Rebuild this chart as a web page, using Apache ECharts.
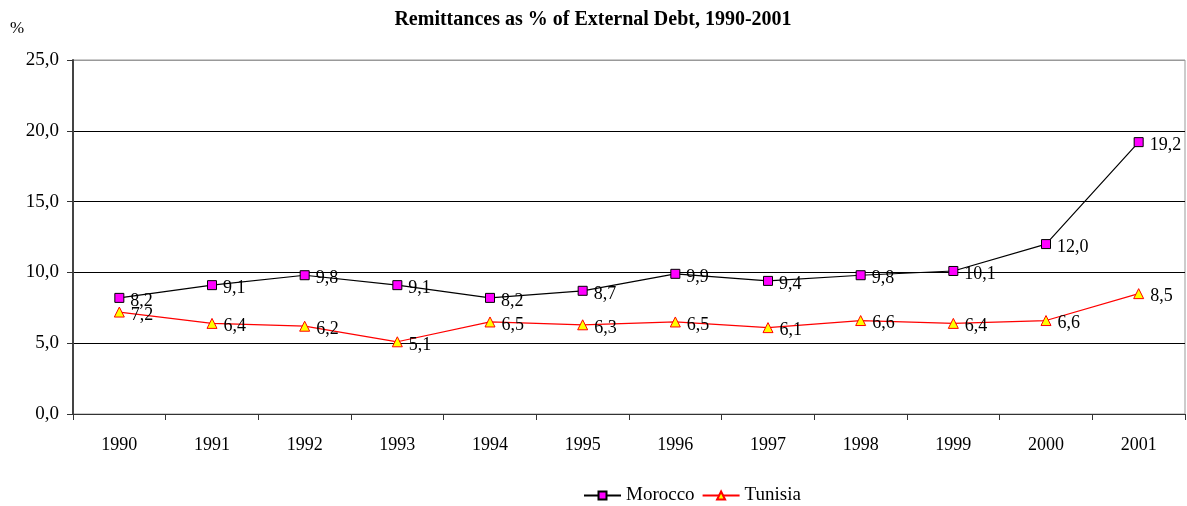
<!DOCTYPE html>
<html>
<head>
<meta charset="utf-8">
<script src="https://cdn.jsdelivr.net/npm/echarts@6/dist/echarts.min.js"></script>
<style>
html, body { margin: 0; padding: 0; background: #fff; }
#main { width: 1187px; height: 506px; }
</style>
</head>
<body>
<div id="main"></div>
<script>
var years = ['1990', '1991', '1992', '1993', '1994', '1995', '1996', '1997', '1998', '1999', '2000', '2001'];
var morocco = [8.2, 9.1, 9.8, 9.1, 8.2, 8.7, 9.9, 9.4, 9.8, 10.1, 12.0, 19.2];
var tunisia = [7.2, 6.4, 6.2, 5.1, 6.5, 6.3, 6.5, 6.1, 6.6, 6.4, 6.6, 8.5];

var fmt = function (v) {
    return Number(v).toFixed(1).replace('.', ',');
};
var serif = '"Liberation Serif", "DejaVu Serif", serif';

var pointLabel = {
    show: true,
    position: 'right',
    distance: 6,
    offset: [0, 3],
    fontFamily: serif,
    fontSize: 18,
    color: '#000',
    formatter: function (p) { return fmt(p.value); }
};

var myChart = echarts.init(document.getElementById('main'));
var option = {
    animation: false,
    textStyle: { fontFamily: serif },
    title: {
        text: 'Remittances as % of External Debt, 1990-2001',
        left: 588,
        textAlign: 'center',
        top: 5,
        textStyle: { fontFamily: serif, fontSize: 20, fontWeight: 'bold', color: '#000' }
    },
    graphic: [{
        type: 'text',
        left: 10,
        top: 20,
        style: { text: '%', font: '17px ' + serif, fill: '#000' }
    }],
    legend: {
        top: 481,
        left: 578,
        itemWidth: 37,
        itemHeight: 10,
        itemGap: 7,
        textStyle: { fontFamily: serif, fontSize: 19, color: '#000' },
        data: ['Morocco', 'Tunisia']
    },
    grid: {
        left: 73,
        right: 2,
        top: 60,
        bottom: 92,
        show: true,
        borderColor: '#999',
        borderWidth: 1
    },
    xAxis: {
        type: 'category',
        data: years,
        boundaryGap: true,
        axisLine: { lineStyle: { color: '#333', width: 1 } },
        axisTick: { show: true, length: 6, interval: 0, lineStyle: { color: '#333' } },
        axisLabel: { margin: 22, fontFamily: serif, fontSize: 18, color: '#000' },
        splitLine: { show: false }
    },
    yAxis: {
        type: 'value',
        min: 0,
        max: 25,
        interval: 5,
        axisLine: { show: true, lineStyle: { color: '#444', width: 2 } },
        axisTick: { show: true, length: 6, lineStyle: { color: '#333' } },
        axisLabel: { margin: 14, fontFamily: serif, fontSize: 19, color: '#000', formatter: fmt },
        splitLine: { show: true, lineStyle: { color: ['#000', '#000', '#000', '#000', '#000', '#999'], width: 1 } }
    },
    series: [{
        name: 'Morocco',
        type: 'line',
        data: morocco,
        symbol: 'rect',
        symbolSize: 9,
        itemStyle: { color: '#ff00ff', borderColor: '#000', borderWidth: 1 },
        lineStyle: { color: '#000', width: 1.2 },
        label: pointLabel
    }, {
        name: 'Tunisia',
        type: 'line',
        data: tunisia,
        symbol: 'triangle',
        symbolSize: 10,
        itemStyle: { color: '#ffff00', borderColor: '#ff0000', borderWidth: 1 },
        lineStyle: { color: '#ff0000', width: 1.2 },
        label: pointLabel
    }]
};
myChart.setOption(option);
</script>
</body>
</html>
